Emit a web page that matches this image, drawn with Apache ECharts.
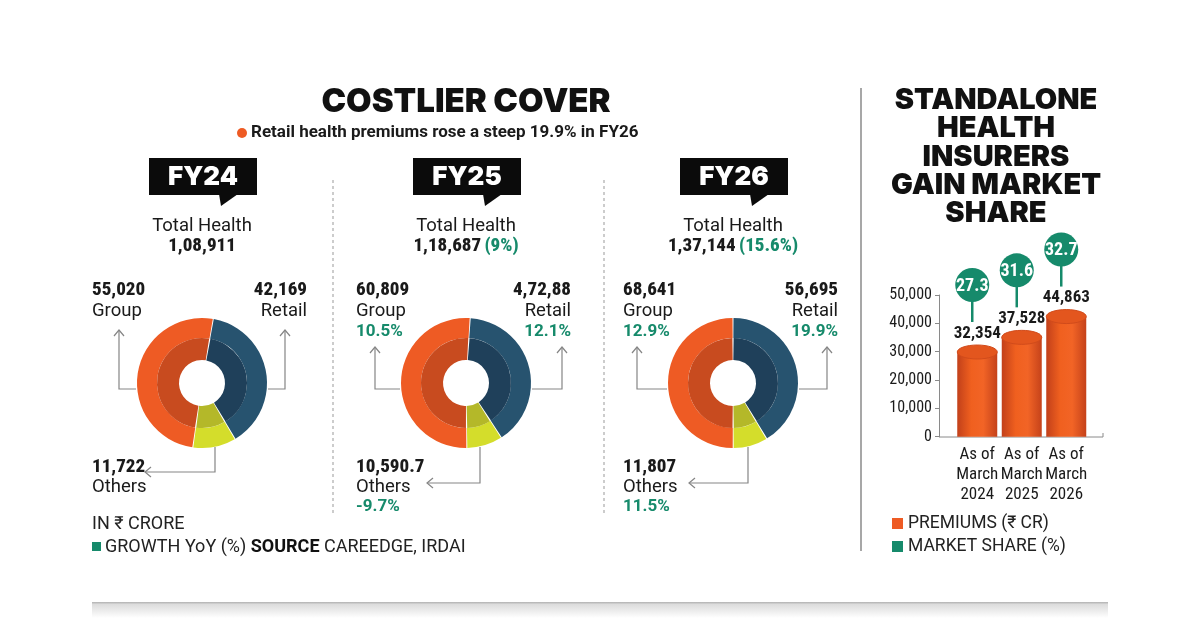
<!DOCTYPE html>
<html><head><meta charset="utf-8">
<script src="https://cdn.jsdelivr.net/npm/echarts@6/dist/echarts.min.js"></script>
<style>html,body{margin:0;padding:0;background:#fff}#c{width:1200px;height:632px}</style>
</head><body><div id="c"></div>
<script>
// ---------- DATA ----------
const years = ['FY24', 'FY25', 'FY26'];
const totalHealth = ['1,08,911', '1,18,687', '1,37,144'];
const totalGrowth = ['', '(9%)', '(15.6%)'];
const groupValues = [55020, 60809, 68641];
const retailValues = [42169, 47288, 56695];
const othersValues = [11722, 10590.7, 11807];
const groupText = ['55,020', '60,809', '68,641'];
const retailText = ['42,169', '4,72,88', '56,695'];
const othersText = ['11,722', '10,590.7', '11,807'];
const groupGrowth = ['', '10.5%', '12.9%'];
const retailGrowth = ['', '12.1%', '19.9%'];
const othersGrowth = ['', '-9.7%', '11.5%'];
const barCategories = ['As of\nMarch\n2024', 'As of\nMarch\n2025', 'As of\nMarch\n2026'];
const premiums = [32354, 37528, 44863];
const premiumLabels = ['32,354', '37,528', '44,863'];
const marketShare = ['27.3', '31.6', '32.7'];
const yTickLabels = ['0', '10,000', '20,000', '30,000', '40,000', '50,000'];

// ---------- LAYOUT / STYLE ----------
const centers = [202, 466, 733];
const CY = 383;
const startAngles = [80, 86.3, 90];
const leftArrowDx = [-83, -91, -96];
const rightArrowDx = [83, 96, 94];
const arrowTop = [330, 347, 347];
const othersDx = [13, 14, 15];
const othersBottom = [472, 483, 483];
const othersLeftDx = [-57, -39, -44];

const C = {
  orange: '#EE5B24', orangeIn: '#C84B1F',
  blue: '#27536F', blueIn: '#1F405A',
  yellow: '#D4DD2B', yellowIn: '#B4B829',
  green: '#168A6B', text: '#1a1a1a', line: '#858585'
};
const COND = "'Roboto Condensed', Roboto, sans-serif";
const FB = '800 19px ' + COND;
const FR = '18.5px Roboto, sans-serif';
const FG = '700 17px Roboto, sans-serif';

function txt(x, y, text, font, fill, align, va) {
  return { type: 'text', silent: true, z: 20,
    style: { x, y, text, font, fill: fill || C.text, align: align || 'left', verticalAlign: va || 'middle' } };
}
function poly(points, stroke, w) {
  return { type: 'polyline', silent: true, z: 20, shape: { points },
    style: { stroke: stroke || C.line, lineWidth: w || 1.2, fill: null } };
}

const graphics = [];
// titles
graphics.push(txt(466, 102, 'COSTLIER COVER', "900 33px Inter, sans-serif", '#111', 'center'));
graphics.push({ type: 'circle', silent: true, shape: { cx: 242, cy: 133, r: 5 }, style: { fill: C.orange } });
graphics.push(txt(251, 133, 'Retail health premiums rose a steep 19.9% in FY26', '700 17px Roboto, sans-serif', '#1a1a1a'));
['STANDALONE', 'HEALTH', 'INSURERS', 'GAIN MARKET', 'SHARE'].forEach((s, i) => {
  graphics.push(txt(996, [100, 128, 157, 185, 213][i], s, "900 29px Inter, sans-serif", '#111', 'center'));
});
// separators
[333, 604].forEach(x => graphics.push({ type: 'line', silent: true,
  shape: { x1: x, y1: 180, x2: x, y2: 515 }, style: { stroke: '#9a9a9a', lineWidth: 1, lineDash: [3, 3] } }));
graphics.push({ type: 'line', silent: true, shape: { x1: 861, y1: 88, x2: 861, y2: 551 },
  style: { stroke: '#8a8a8a', lineWidth: 1.5 } });

// panels
years.forEach((fy, i) => {
  const cx = centers[i];
  graphics.push({ type: 'rect', silent: true, shape: { x: cx - 53, y: 158, width: 108, height: 37 }, style: { fill: '#0b0b0b' } });
  graphics.push({ type: 'polygon', silent: true, shape: { points: [[cx + 17, 194], [cx + 36, 194], [cx + 19, 206]] }, style: { fill: '#0b0b0b' } });
  graphics.push(txt(cx + 1, 177, fy, "900 26px Inter, sans-serif", '#fff', 'center'));
  graphics.push(txt(cx, 226, 'Total Health', '18.5px Roboto, sans-serif', '#1a1a1a', 'center'));
  graphics.push({ type: 'text', silent: true, z: 20, style: {
    x: cx, y: 246, align: 'center', verticalAlign: 'middle',
    text: '{b|' + totalHealth[i] + '}' + (totalGrowth[i] ? ' {g|' + totalGrowth[i] + '}' : ''),
    rich: { b: { font: FB, fill: C.text }, g: { font: '800 19px ' + COND, fill: C.green } } } });

  const lx = cx - 110, rx = cx + 105;
  graphics.push(txt(lx, 290, groupText[i], FB));
  graphics.push(txt(lx, 311, 'Group', FR));
  if (groupGrowth[i]) graphics.push(txt(lx, 332, groupGrowth[i], FG, C.green));
  graphics.push(txt(rx, 290, retailText[i], FB, C.text, 'right'));
  graphics.push(txt(rx, 311, 'Retail', FR, C.text, 'right'));
  if (retailGrowth[i]) graphics.push(txt(rx, 332, retailGrowth[i], FG, C.green, 'right'));
  graphics.push(txt(lx, 467, othersText[i], FB));
  graphics.push(txt(lx, 487, 'Others', FR));
  if (othersGrowth[i]) graphics.push(txt(lx, 507, othersGrowth[i], FG, C.green));

  const gx = cx + leftArrowDx[i], rxx = cx + rightArrowDx[i], ay = CY + 6, top = arrowTop[i];
  graphics.push(poly([[cx - 66, ay], [gx, ay], [gx, top]]));
  graphics.push(poly([[gx - 5, top + 6], [gx, top], [gx + 5, top + 6]]));
  graphics.push(poly([[cx + 66, ay], [rxx, ay], [rxx, top]]));
  graphics.push(poly([[rxx - 5, top + 6], [rxx, top], [rxx + 5, top + 6]]));
  const ox = cx + othersDx[i], ob = othersBottom[i], ol = cx + othersLeftDx[i];
  graphics.push(poly([[ox, CY + 64], [ox, ob], [ol, ob]]));
  graphics.push(poly([[ol + 6, ob - 5], [ol, ob], [ol + 6, ob + 5]]));
});

// bottom notes
graphics.push(txt(92, 524, 'IN ₹ CRORE', '18px Roboto, sans-serif', '#222'));
graphics.push({ type: 'rect', silent: true, shape: { x: 92, y: 542, width: 9, height: 9 }, style: { fill: C.green } });
graphics.push({ type: 'text', silent: true, style: { x: 105, y: 547, verticalAlign: 'middle',
  text: '{r|GROWTH YoY (%) }{b|SOURCE}{r| CAREEDGE, IRDAI}',
  rich: { r: { font: '18px Roboto, sans-serif', fill: '#222' }, b: { font: '700 18px Roboto, sans-serif', fill: '#111' } } } });
// bar legend
graphics.push({ type: 'rect', silent: true, shape: { x: 892, y: 518, width: 11, height: 11 }, style: { fill: C.orange } });
graphics.push(txt(908, 524, 'PREMIUMS (₹ CR)', '17.5px Roboto, sans-serif', '#222'));
graphics.push({ type: 'rect', silent: true, shape: { x: 892, y: 541, width: 11, height: 11 }, style: { fill: C.green } });
graphics.push(txt(908, 547, 'MARKET SHARE (%)', '17.5px Roboto, sans-serif', '#222'));
// x-axis baseline of bar chart
graphics.push({ type: 'line', silent: true, shape: { x1: 939, y1: 437, x2: 1103, y2: 437 }, style: { stroke: '#8a8a8a', lineWidth: 1 } });
graphics.push({ type: 'line', silent: true, shape: { x1: 1103, y1: 437, x2: 1103, y2: 433 }, style: { stroke: '#8a8a8a', lineWidth: 1 } });
// bottom shadow band
graphics.push({ type: 'rect', silent: true, shape: { x: 92, y: 602, width: 1016, height: 16 },
  style: { fill: new echarts.graphic.LinearGradient(0, 0, 0, 1, [
    { offset: 0, color: '#b0b0b0' }, { offset: 0.15, color: '#dcdcdc' }, { offset: 1, color: '#ffffff' }]) } });

// pies
function ring(i, inner) {
  return {
    type: 'pie', center: [centers[i], CY], radius: inner ? [23, 45] : [45, 65],
    startAngle: startAngles[i], clockwise: true, silent: true, animation: false,
    padAngle: inner ? 1.6 : 0.9,
    label: { show: false }, labelLine: { show: false }, emphasis: { disabled: true },
    data: [
      { value: retailValues[i], name: 'Retail', itemStyle: { color: inner ? C.blueIn : C.blue } },
      { value: othersValues[i], name: 'Others', itemStyle: { color: inner ? C.yellowIn : C.yellow } },
      { value: groupValues[i], name: 'Group', itemStyle: { color: inner ? C.orangeIn : C.orange } }
    ]
  };
}
const series = [];
years.forEach((_, i) => { series.push(ring(i, false)); series.push(ring(i, true)); });

// cylinder bars with market-share badges
series.push({
  type: 'custom', xAxisIndex: 0, yAxisIndex: 0, silent: true, animation: false, z: 5,
  data: premiums.map((v, i) => [i, v]),
  renderItem: function (params, api) {
    const i = api.value(0);
    const p = api.coord([i, api.value(1)]);
    const b = api.coord([i, 0]);
    const w = 40, eh = 14, cx = p[0], top = p[1] + eh / 2;
    const bx = cx - 5;
    const cy = p[1] - 60;
    return { type: 'group', children: [
      { type: 'rect', shape: { x: cx - w / 2, y: top, width: w, height: b[1] - top },
        style: { fill: new echarts.graphic.LinearGradient(0, 0, 1, 0, [
          { offset: 0, color: '#C2401A' }, { offset: 0.35, color: '#F0601F' },
          { offset: 0.65, color: '#F26426' }, { offset: 1, color: '#C5421A' }]) } },
      { type: 'ellipse', shape: { cx: cx, cy: top, rx: w / 2, ry: eh / 2 },
        style: { fill: '#E3561E', stroke: '#D14B1B', lineWidth: 1 } },
      { type: 'text', style: { x: cx, y: p[1] - 3, text: premiumLabels[i], align: 'center', verticalAlign: 'bottom',
        font: '700 17px ' + COND, fill: '#1a1a1a' } },
      { type: 'line', shape: { x1: bx, y1: cy + 16, x2: bx, y2: p[1] - 23 }, style: { stroke: C.green, lineWidth: 2.5 } },
      { type: 'circle', shape: { cx: bx, cy: cy, r: 17 }, style: { fill: C.green } },
      { type: 'text', style: { x: bx, y: cy + 1, text: marketShare[i], align: 'center', verticalAlign: 'middle',
        font: '700 18px ' + COND, fill: '#fff' } }
    ] };
  }
});

const chart = echarts.init(document.getElementById('c'), null, { renderer: 'canvas' });
chart.setOption({
  animation: false,
  backgroundColor: '#fff',
  grid: { left: 955, right: 111.5, top: 295, bottom: 195.3, containLabel: false },
  xAxis: {
    type: 'category', data: barCategories,
    axisLine: { show: false }, axisTick: { show: false },
    axisLabel: { interval: 0, margin: 8, fontSize: 17, lineHeight: 20, color: '#1a1a1a', fontFamily: COND }
  },
  yAxis: {
    type: 'value', min: 0, max: 50000, interval: 10000, offset: 16,
    axisLine: { show: true, lineStyle: { color: '#8a8a8a', width: 1 } },
    axisTick: { show: true, length: 4, lineStyle: { color: '#8a8a8a' } },
    splitLine: { show: false },
    axisLabel: { margin: 7, fontSize: 16, color: '#1a1a1a', fontFamily: COND,
      formatter: v => yTickLabels[Math.round(v / 10000)] }
  },
  series: series,
  graphic: graphics
});
</script></body></html>
